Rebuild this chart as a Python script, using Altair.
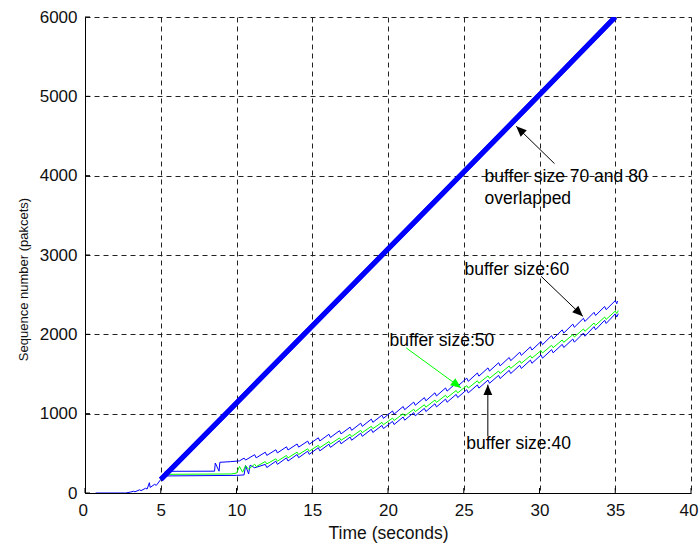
import altair as alt
import pandas as pd

# Slow-start segment shared by every run before the buffers diverge
start_pts = [[0.7, 0], [2.7, 0], [3.0, 12], [3.2, 22], [3.3, 15], [3.6, 40], [3.7, 30],
             [4.0, 60], [4.1, 50], [4.25, 130], [4.3, 70], [4.6, 110], [4.7, 95], [5.0, 170]]

# Buffer sizes 70 and 80 (the two runs overlap)
buf70_pts = [[5, 170], [10, 1135], [15, 2105], [20, 3075], [25, 4045], [30, 5020], [35, 6000]]
buf80_pts = [[5, 170], [10, 1135], [15, 2105], [20, 3075], [25, 4045], [30, 5020], [35, 6000]]

buf60_pts = [[5.0, 170], [5.3, 273], [8.55, 275], [8.6, 378], [8.85, 275], [8.9, 387], [9.6, 395],
             [10.2, 405], [10.5, 440], [10.6, 415],
             [11.2, 483], [11.3, 443], [11.9, 514], [12.0, 474], [12.6, 545], [12.7, 505],
             [13.3, 582], [13.4, 542], [14.0, 618], [14.1, 578], [14.7, 654], [14.8, 614],
             [15.4, 696], [15.5, 656], [16.1, 740], [16.2, 700], [16.8, 785], [16.9, 745],
             [17.5, 830], [17.6, 790], [18.2, 880], [18.3, 840], [18.9, 931], [19.0, 891],
             [19.6, 981], [19.7, 941], [20.3, 1034], [20.4, 994], [21.0, 1090], [21.1, 1050],
             [21.7, 1146], [21.8, 1106], [22.4, 1202], [22.5, 1162], [23.1, 1263], [23.2, 1223],
             [23.8, 1324], [23.9, 1284], [24.5, 1386], [24.6, 1346], [25.2, 1448], [25.3, 1408],
             [25.9, 1513], [26.0, 1473], [26.6, 1577], [26.7, 1537], [27.3, 1642], [27.4, 1602],
             [28.0, 1708], [28.1, 1668], [28.7, 1775], [28.8, 1735], [29.4, 1842], [29.5, 1802],
             [30.1, 1910], [30.2, 1870], [30.8, 1983], [30.9, 1943], [31.5, 2056], [31.6, 2016],
             [32.2, 2129], [32.3, 2089], [32.9, 2202], [33.0, 2162], [33.6, 2277], [33.7, 2237],
             [34.3, 2351], [34.4, 2311], [35.0, 2425], [35.1, 2385], [35.15, 2420]]

buf50_pts = [[5.0, 170], [5.2, 235], [9.6, 240], [10.0, 250], [10.2, 335], [10.4, 262],
             [10.6, 345], [10.8, 300],
             [11.2, 363], [11.3, 333], [11.9, 396], [12.0, 366], [12.6, 431], [12.7, 401],
             [13.3, 473], [13.4, 443], [14.0, 515], [14.1, 485], [14.7, 557], [14.8, 527],
             [15.4, 601], [15.5, 571], [16.1, 648], [16.2, 618], [16.8, 694], [16.9, 664],
             [17.5, 740], [17.6, 710], [18.2, 790], [18.3, 760], [18.9, 841], [19.0, 811],
             [19.6, 891], [19.7, 861], [20.3, 944], [20.4, 914], [21.0, 1000], [21.1, 970],
             [21.7, 1056], [21.8, 1026], [22.4, 1112], [22.5, 1082], [23.1, 1172], [23.2, 1142],
             [23.8, 1232], [23.9, 1202], [24.5, 1292], [24.6, 1262], [25.2, 1353], [25.3, 1323],
             [25.9, 1414], [26.0, 1384], [26.6, 1476], [26.7, 1446], [27.3, 1537], [27.4, 1507],
             [28.0, 1601], [28.1, 1571], [28.7, 1665], [28.8, 1635], [29.4, 1730], [29.5, 1700],
             [30.1, 1795], [30.2, 1765], [30.8, 1862], [30.9, 1832], [31.5, 1929], [31.6, 1899],
             [32.2, 1996], [32.3, 1966], [32.9, 2068], [33.0, 2038], [33.6, 2143], [33.7, 2113],
             [34.3, 2218], [34.4, 2188], [35.0, 2293], [35.1, 2263], [35.2, 2300]]

buf40_pts = [[5.0, 170], [5.2, 215], [10.0, 222], [10.5, 228], [10.6, 345], [10.8, 240],
             [10.9, 350], [11.2, 318],
             [11.9, 361], [12.0, 321], [12.6, 401], [12.7, 361], [13.3, 443], [13.4, 403],
             [14.0, 485], [14.1, 445], [14.7, 527], [14.8, 487], [15.4, 571], [15.5, 531],
             [16.1, 615], [16.2, 575], [16.8, 660], [16.9, 620], [17.5, 705], [17.6, 665],
             [18.2, 754], [18.3, 714], [18.9, 803], [19.0, 763], [19.6, 852], [19.7, 812],
             [20.3, 903], [20.4, 863], [21.0, 958], [21.1, 918], [21.7, 1013], [21.8, 973],
             [22.4, 1067], [22.5, 1027], [23.1, 1125], [23.2, 1085], [23.8, 1184], [23.9, 1144],
             [24.5, 1243], [24.6, 1203], [25.2, 1302], [25.3, 1262], [25.9, 1362], [26.0, 1322],
             [26.6, 1423], [26.7, 1383], [27.3, 1483], [27.4, 1443], [28.0, 1546], [28.1, 1506],
             [28.7, 1610], [28.8, 1570], [29.4, 1675], [29.5, 1635], [30.1, 1740], [30.2, 1700],
             [30.8, 1807], [30.9, 1767], [31.5, 1874], [31.6, 1834], [32.2, 1941], [32.3, 1901],
             [32.9, 2016], [33.0, 1976], [33.6, 2097], [33.7, 2057], [34.3, 2177], [34.4, 2137],
             [35.0, 2258], [35.1, 2218], [35.2, 2260]]

x_ticks = [0, 5, 10, 15, 20, 25, 30, 35, 40]
y_ticks = [0, 1000, 2000, 3000, 4000, 5000, 6000]

# Annotation labels: text, anchor (time, sequence), colour
labels = [
    ["buffer size 70 and 80", 26.37, 3989, "#000000"],
    ["overlapped", 26.37, 3711, "#000000"],
    ["buffer size:60", 25.05, 2815, "#000000"],
    ["buffer size:50", 20.10, 1912, "#000000"],
    ["buffer size:40", 25.16, 618, "#000000"],
]
# Arrows: tail (t, seq) -> head (t, seq), head rotation, colour
arrows = [
    [30.99, 4152, 28.46, 4623, 314, "#000000"],
    [30.11, 2731, 32.86, 2227, 134, "#000000"],
    [21.20, 1829, 24.83, 1324, 126, "#00ff00"],
    [26.59, 714, 26.59, 1366, 0, "#000000"],
]


def frame(name, pts):
    return pd.DataFrame({"t": [p[0] for p in pts], "seq": [p[1] for p in pts],
                         "run": name, "k": list(range(len(pts)))})


FONT = "Liberation Sans"
W, H = 606, 476

x_scale = alt.Scale(domain=[0, 40], nice=False, zero=False)
y_scale = alt.Scale(domain=[0, 6000], nice=False)

x_axis = alt.Axis(values=x_ticks, title="Time (seconds)", grid=True, tickSize=0, format="d",
                  labelPadding=9, labelFlush=True, labelFlushOffset=7,
                  titleY=40, titleBaseline="middle", titleFontWeight="normal", titleFontSize=17.5)
y_axis = alt.Axis(values=y_ticks, title="Sequence number (pakcets)", grid=True, tickSize=0,
                  format="d", labelPadding=8, labelFlush=False,
                  titleX=-62, titleY=262, titleAngle=270, titleAlign="center",
                  titleBaseline="middle", titleFontWeight="normal", titleFontSize=13)


def line_layer(df, color, width):
    return alt.Chart(df).mark_line(color=color, strokeWidth=width, clip=True).encode(
        x=alt.X("t:Q", scale=x_scale, axis=x_axis),
        y=alt.Y("seq:Q", scale=y_scale, axis=y_axis),
        detail="run:N",
        order="k:Q",
    )


thin_blue = line_layer(pd.concat([frame("start", start_pts), frame("60", buf60_pts),
                                  frame("40", buf40_pts)]), "#0000ff", 1)
thin_green = line_layer(frame("50", buf50_pts), "#00ff00", 1)
thick_blue = line_layer(pd.concat([frame("70", buf70_pts), frame("80", buf80_pts)]), "#0000ff", 5)

# Inward tick marks along the two axes
xt = alt.Chart(pd.DataFrame({"v": x_ticks})).mark_rule(color="#000", strokeWidth=1).encode(
    x=alt.X("v:Q", scale=x_scale), y=alt.value(H), y2=alt.value(H - 5))
yt = alt.Chart(pd.DataFrame({"v": y_ticks})).mark_rule(color="#000", strokeWidth=1).encode(
    y=alt.Y("v:Q", scale=y_scale), x=alt.value(0), x2=alt.value(5))

lab_df = pd.DataFrame(labels, columns=["text", "t", "seq", "c"])
text_layer = alt.Chart(lab_df).mark_text(align="left", baseline="middle", font=FONT,
                                         fontSize=17.5).encode(
    x=alt.X("t:Q", scale=x_scale), y=alt.Y("seq:Q", scale=y_scale),
    text="text:N", color=alt.Color("c:N", scale=None))

arr_df = pd.DataFrame(arrows, columns=["t0", "s0", "t1", "s1", "ang", "c"])
shafts = alt.Chart(arr_df).mark_rule(strokeWidth=1).encode(
    x=alt.X("t0:Q", scale=x_scale), y=alt.Y("s0:Q", scale=y_scale),
    x2="t1:Q", y2="s1:Q", color=alt.Color("c:N", scale=None))
heads = alt.Chart(arr_df).mark_point(shape="M0,0L-0.42,1L0.42,1Z", filled=True, size=440,
                                     opacity=1).encode(
    x=alt.X("t1:Q", scale=x_scale), y=alt.Y("s1:Q", scale=y_scale),
    angle=alt.Angle("ang:Q", scale=None), color=alt.Color("c:N", scale=None))

chart = alt.layer(thin_blue, thin_green, thick_blue, xt, yt, shafts, heads, text_layer).properties(
    width=W, height=H,
    autosize=alt.AutoSizeParams(type="none"),
    padding={"left": 85, "top": 17, "right": 8, "bottom": 55},
    background="white",
).configure_view(stroke=None).configure_axis(
    domainColor="#000", domainWidth=1, gridColor="#222", gridDash=[5, 4], gridOpacity=1,
    gridWidth=1, labelFont=FONT, labelFontSize=17, labelColor="#111", titleFont=FONT,
    titleColor="#111", labelOverlap=False,
)

chart.save("out.html", embed_options={"renderer": "svg", "actions": False})
